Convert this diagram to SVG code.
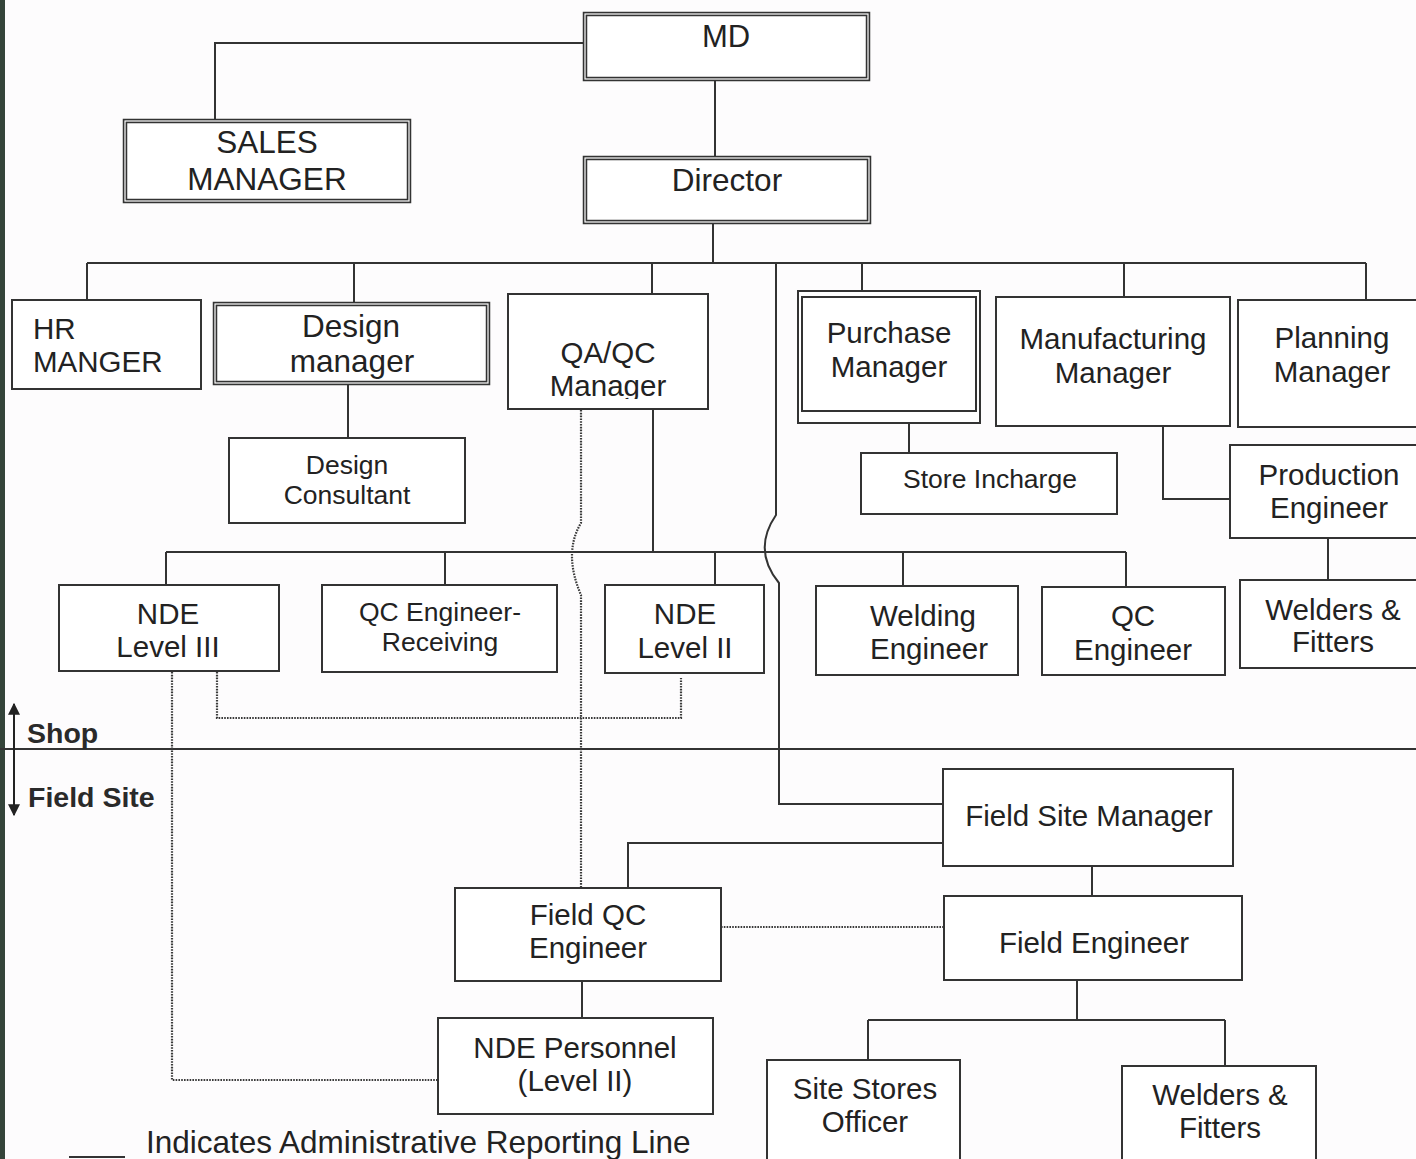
<svg xmlns="http://www.w3.org/2000/svg" width="1416" height="1159" viewBox="0 0 1416 1159">
<defs>
<style>
.b{fill:#fff;stroke:#333;stroke-width:2}
.d{fill:#fff;stroke:#333;stroke-width:4.5}
.di{fill:none;stroke:#fff;stroke-width:1.2}
.t{font-family:"Liberation Sans",Arial,sans-serif;font-size:29.5px;fill:#222;text-anchor:middle}
.s{font-size:26.5px}
.l{font-size:31.5px}
.c{fill:none;stroke:#333;stroke-width:2}
.dot{fill:none;stroke:#3a3a3a;stroke-width:2.2;stroke-dasharray:1.6 1.2}
.bold{font-family:"Liberation Sans",Arial,sans-serif;font-weight:bold;font-size:28.5px;fill:#2a2a2a}
</style>
<marker id="ah" viewBox="0 0 10 10" refX="9" refY="5" markerWidth="6" markerHeight="6" orient="auto-start-reverse">
<path d="M0 0L10 5L0 10z" fill="#222"/>
</marker>
</defs>
<rect x="0" y="0" width="1416" height="1159" fill="#fdfcfd"/>
<rect x="0" y="0" width="5" height="1159" fill="#34443a"/>

<g id="connectors">
<path class="c" d="M585 43H215V121"/>
<path class="c" d="M715 79V158"/>
<path class="c" d="M713 222V263"/>
<path class="c" d="M87 263H1366M87 263V300M354 263V304M652 263V294M862 263V291M1124 263V297M1366 263V300"/>
<path class="c" d="M776 263V515Q752 550 779 583V804H943"/>
<path class="c" d="M348 383V438"/>
<path class="c" d="M909 423V453"/>
<path class="c" d="M1163 426V499H1230"/>
<path class="c" d="M1328 538V580"/>
<path class="c" d="M653 409V552M166 552H1126M166 552V585M445 552V585M715 552V585M903 552V586M1126 552V587"/>
<path class="c" d="M0 749H1416"/>
<path class="c" d="M943 843H628V888"/>
<path class="c" d="M1092 866V896"/>
<path class="c" d="M582 981V1018"/>
<path class="c" d="M1077 980V1020M868 1020H1225M868 1020V1060M1225 1020V1066"/>
<path class="dot" d="M581 410V523Q563 553 581 595V888"/>
<path class="dot" d="M217 672V718H681V678"/>
<path class="dot" d="M172 672V1080H438"/>
<path class="dot" d="M721 927H944"/>
<path d="M14 704V815" stroke="#222" stroke-width="2" fill="none" marker-start="url(#ah)" marker-end="url(#ah)"/>
<path class="c" d="M69 1157H125"/>
</g>

<g id="md"><rect class="d" x="585" y="14" width="283" height="65"/><rect class="di" x="585" y="14" width="283" height="65"/><text class="t" x="726" y="47" style="font-size:31px">MD</text></g>
<g id="director"><rect class="d" x="585" y="158" width="284" height="64"/><rect class="di" x="585" y="158" width="284" height="64"/><text class="t l" x="727" y="191">Director</text></g>
<g id="sales"><rect class="d" x="125" y="121" width="284" height="80"/><rect class="di" x="125" y="121" width="284" height="80"/><text class="t l" x="267" y="153">SALES</text><text class="t l" x="267" y="190">MANAGER</text></g>

<g id="hr"><rect class="b" x="12" y="300" width="189" height="89"/><text class="t" x="33" y="339" style="text-anchor:start">HR</text><text class="t" x="33" y="372" style="text-anchor:start">MANGER</text></g>
<g id="design-manager"><rect class="d" x="215" y="304" width="273" height="79"/><rect class="di" x="215" y="304" width="273" height="79"/><text class="t l" x="351" y="337">Design</text><text class="t l" x="352" y="372">manager</text></g>
<g id="design-consultant"><rect class="b" x="229" y="438" width="236" height="85"/><text class="t s" x="347" y="474">Design</text><text class="t s" x="347" y="504">Consultant</text></g>
<g id="qaqc"><rect class="b" x="508" y="294" width="200" height="115"/><text class="t" x="608" y="363">QA/QC</text><text class="t" x="608" y="396">Manager</text><rect x="509" y="399" width="198" height="9" fill="#fff"/></g>
<g id="purchase"><rect class="b" x="798" y="291" width="182" height="132"/><rect class="b" x="802" y="297" width="174" height="114"/><text class="t" x="889" y="343">Purchase</text><text class="t" x="889" y="377">Manager</text></g>
<g id="store"><rect class="b" x="861" y="453" width="256" height="61"/><text class="t s" x="990" y="488">Store Incharge</text></g>
<g id="manufacturing"><rect class="b" x="996" y="297" width="234" height="129"/><text class="t" x="1113" y="349">Manufacturing</text><text class="t" x="1113" y="383">Manager</text></g>
<g id="planning"><rect class="b" x="1238" y="300" width="190" height="127"/><text class="t" x="1332" y="348">Planning</text><text class="t" x="1332" y="382">Manager</text></g>
<g id="production"><rect class="b" x="1230" y="445" width="196" height="93"/><text class="t" x="1329" y="485">Production</text><text class="t" x="1329" y="518">Engineer</text></g>
<g id="welders-shop"><rect class="b" x="1240" y="580" width="186" height="88"/><text class="t" x="1333" y="620">Welders &amp;</text><text class="t" x="1333" y="652">Fitters</text></g>

<g id="nde3"><rect class="b" x="59" y="585" width="220" height="86"/><text class="t" x="168" y="624">NDE</text><text class="t" x="168" y="657">Level III</text></g>
<g id="qc-receiving"><rect class="b" x="322" y="585" width="235" height="87"/><text class="t s" x="440" y="621">QC Engineer-</text><text class="t s" x="440" y="651">Receiving</text></g>
<g id="nde2"><rect class="b" x="605" y="585" width="159" height="88"/><text class="t" x="685" y="624">NDE</text><text class="t" x="685" y="658">Level II</text></g>
<g id="welding"><rect class="b" x="816" y="586" width="202" height="89"/><text class="t" x="923" y="626">Welding</text><text class="t" x="929" y="659">Engineer</text></g>
<g id="qc-engineer"><rect class="b" x="1042" y="587" width="183" height="88"/><text class="t" x="1133" y="626">QC</text><text class="t" x="1133" y="660">Engineer</text></g>

<g id="labels"><text class="bold" x="27" y="743">Shop</text><text class="bold" x="28" y="807">Field Site</text></g>

<g id="field-site-manager"><rect class="b" x="943" y="769" width="290" height="97"/><text class="t" x="1089" y="826">Field Site Manager</text></g>
<g id="field-qc"><rect class="b" x="455" y="888" width="266" height="93"/><text class="t" x="588" y="925">Field QC</text><text class="t" x="588" y="958">Engineer</text></g>
<g id="field-engineer"><rect class="b" x="944" y="896" width="298" height="84"/><text class="t" x="1094" y="953">Field Engineer</text></g>
<g id="nde-personnel"><rect class="b" x="438" y="1018" width="275" height="96"/><text class="t" x="575" y="1058">NDE Personnel</text><text class="t" x="575" y="1091">(Level II)</text></g>
<g id="site-stores"><rect class="b" x="767" y="1060" width="193" height="110"/><text class="t" x="865" y="1099">Site Stores</text><text class="t" x="865" y="1132">Officer</text></g>
<g id="welders-field"><rect class="b" x="1122" y="1066" width="194" height="104"/><text class="t" x="1220" y="1105">Welders &amp;</text><text class="t" x="1220" y="1138">Fitters</text></g>

<g id="legend"><text class="t" x="146" y="1153" style="text-anchor:start;font-size:31.5px">Indicates Administrative Reporting Line</text></g>
</svg>
